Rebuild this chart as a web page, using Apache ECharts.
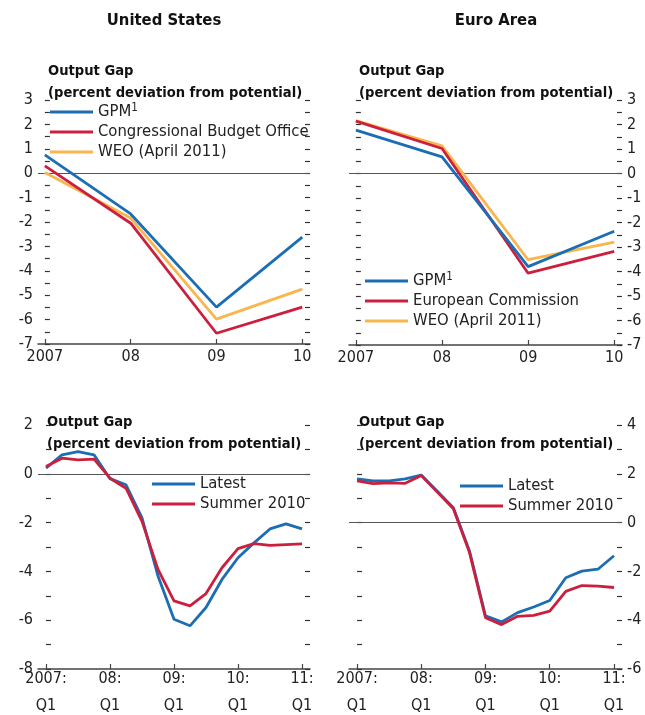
<!DOCTYPE html>
<html>
<head>
<meta charset="utf-8">
<script src="https://cdn.jsdelivr.net/npm/echarts@6/dist/echarts.min.js"></script>
<style>
  html, body { margin: 0; padding: 0; background: #fff; }
  #chart { width: 645px; height: 715px; }
</style>
</head>
<body>
<div id="chart"></div>
<script>
// annual panels (top)
var yearLabels = ['2007', '08', '09', '10'];
var usGPM = [0.75, -1.67, -5.49, -2.62];
var usCBO = [0.3, -2.05, -6.56, -5.49];
var usWEO = [0.03, -1.84, -5.98, -4.75];
var euGPM = [1.77, 0.68, -3.8, -2.36];
var euEC = [2.14, 1.02, -4.07, -3.18];
var euWEO = [2.16, 1.13, -3.52, -2.8];

// quarterly panels (bottom), 2007:Q1 .. 2011:Q1
var quarterLabels = ['2007:\nQ1', '08:\nQ1', '09:\nQ1', '10:\nQ1', '11:\nQ1'];
var usLatest = [0.23, 0.78, 0.91, 0.78, -0.2, -0.45, -1.81, -4.19, -5.96, -6.23, -5.48, -4.33, -3.44, -2.83, -2.26, -2.05, -2.26];
var usSummer = [0.3, 0.64, 0.57, 0.6, -0.18, -0.59, -1.95, -3.92, -5.21, -5.41, -4.91, -3.85, -3.07, -2.86, -2.93, -2.9, -2.87];
var euLatest = [1.79, 1.71, 1.71, 1.79, 1.95, 1.29, 0.61, -1.15, -3.82, -4.07, -3.69, -3.46, -3.19, -2.26, -1.99, -1.91, -1.36];
var euSummer = [1.71, 1.6, 1.63, 1.61, 1.93, 1.25, 0.57, -1.22, -3.9, -4.18, -3.84, -3.8, -3.63, -2.82, -2.58, -2.6, -2.66];

var BLUE = '#1b6db4';
var RED = '#cc1f3d';
var GOLD = '#f9b54e';
var FONT = "'Liberation Sans Narrow', 'DejaVu Sans Condensed', sans-serif";

function pairs(arr) {
  return arr.map(function (v, i) { return [i, v]; });
}

var chart = echarts.init(document.getElementById('chart'));

var grids = [
  { left: 38, top: 100, width: 272, height: 244, outerBoundsMode: 'none' },
  { left: 349, top: 100, width: 273, height: 245, outerBoundsMode: 'none' },
  { left: 38, top: 425, width: 272, height: 244, outerBoundsMode: 'none' },
  { left: 349, top: 425, width: 273, height: 244, outerBoundsMode: 'none' }
];

function xAxisFor(gi, annual) {
  var ticks = annual ? [0, 1, 2, 3] : [0, 4, 8, 12, 16];
  return {
    type: 'value',
    gridIndex: gi,
    min: annual ? -0.08 : -0.5,
    max: annual ? 3.09 : 16.5,
    axisLine: { show: true, onZero: false, lineStyle: { color: '#444', width: 1.5 } },
    axisTick: { show: true, inside: true, length: 5, customValues: ticks, lineStyle: { color: '#444', width: 1.2 } },
    splitLine: { show: false },
    axisLabel: {
      customValues: ticks,
      color: '#222',
      fontFamily: FONT,
      fontSize: 16,
      lineHeight: annual ? 16 : 27,
      margin: annual ? 5 : -4,
      formatter: function (v) {
        return annual ? yearLabels[Math.round(v)] : quarterLabels[Math.round(v / 4)];
      }
    }
  };
}

function yAxisFor(gi, pos, showLabels, min, max, step, labelEvery) {
  return {
    type: 'value',
    gridIndex: gi,
    position: pos,
    min: min,
    max: max,
    interval: step,
    axisLine: { show: false },
    axisTick: { show: true, inside: true, length: 5, lineStyle: { color: '#333', width: 1.2 } },
    splitLine: { show: false },
    axisLabel: {
      show: showLabels,
      color: '#222',
      fontFamily: FONT,
      fontSize: 16,
      margin: 5,
      showMinLabel: true,
      showMaxLabel: true,
      formatter: function (v) {
        return Math.abs(v / labelEvery - Math.round(v / labelEvery)) < 1e-6 ? String(v) : '';
      }
    }
  };
}

var zeroLine = {
  silent: true,
  symbol: 'none',
  z: 1,
  label: { show: false },
  lineStyle: { color: '#555', width: 1, type: 'solid' },
  data: [{ yAxis: 0 }]
};

function line(name, data, color, xi, yi, withZero) {
  var s = {
    name: name,
    type: 'line',
    xAxisIndex: xi,
    yAxisIndex: yi,
    data: pairs(data),
    showSymbol: false,
    symbol: 'none',
    lineStyle: { color: color, width: 2.8 },
    itemStyle: { color: color },
    z: 3
  };
  if (withZero) s.markLine = zeroLine;
  return s;
}

var legendText = {
  fontFamily: FONT,
  fontSize: 16.5,
  color: '#222',
  lineHeight: 20,
  rich: {
    sup: { fontFamily: FONT, fontSize: 11.5, lineHeight: 20, verticalAlign: 'top', color: '#222' }
  }
};

function legendFor(names, left, top) {
  return {
    data: names,
    left: left,
    top: top,
    orient: 'vertical',
    icon: 'rect',
    itemWidth: 43,
    itemHeight: 3,
    itemGap: 0,
    padding: 0,
    selectedMode: false,
    textStyle: legendText,
    formatter: function (n) { return n === 'GPM' ? 'GPM{sup|1}' : n; }
  };
}

var subTitle = 'Output Gap\n(percent deviation from potential)';
var subStyle = { fontFamily: FONT, fontSize: 14.6, fontWeight: 'bold', color: '#111', lineHeight: 22 };
var headStyle = { fontFamily: FONT, fontSize: 16.5, fontWeight: 'bold', color: '#111', lineHeight: 20 };

chart.setOption({
  animation: false,
  backgroundColor: '#fff',
  title: [
    { text: 'United States', left: 164, top: 11, textAlign: 'center', padding: 0, textStyle: headStyle },
    { text: 'Euro Area', left: 496, top: 11, textAlign: 'center', padding: 0, textStyle: headStyle },
    { text: subTitle, left: 48, top: 60, padding: 0, textStyle: subStyle },
    { text: subTitle, left: 359, top: 60, padding: 0, textStyle: subStyle },
    { text: subTitle, left: 47, top: 411, padding: 0, textStyle: subStyle },
    { text: subTitle, left: 359, top: 411, padding: 0, textStyle: subStyle }
  ],
  legend: [
    legendFor(['GPM', 'Congressional Budget Office', 'WEO (April 2011)'], 50, 102),
    legendFor(['GPM', 'European Commission', 'WEO (April 2011)'], 365, 271),
    legendFor(['Latest', 'Summer 2010'], 152, 474),
    legendFor(['Latest', 'Summer 2010'], 460, 476)
  ],
  grid: grids,
  xAxis: [
    xAxisFor(0, true),
    xAxisFor(1, true),
    xAxisFor(2, false),
    xAxisFor(3, false)
  ],
  yAxis: [
    yAxisFor(0, 'left', true, -7, 3, 0.5, 1),
    yAxisFor(0, 'right', false, -7, 3, 0.5, 1),
    yAxisFor(1, 'left', false, -7, 3, 0.5, 1),
    yAxisFor(1, 'right', true, -7, 3, 0.5, 1),
    yAxisFor(2, 'left', true, -8, 2, 1, 2),
    yAxisFor(2, 'right', false, -8, 2, 1, 2),
    yAxisFor(3, 'left', false, -6, 4, 1, 2),
    yAxisFor(3, 'right', true, -6, 4, 1, 2)
  ],
  series: [
    line('WEO (April 2011)', usWEO, GOLD, 0, 0, true),
    line('Congressional Budget Office', usCBO, RED, 0, 0),
    line('GPM', usGPM, BLUE, 0, 0),

    line('WEO (April 2011)', euWEO, GOLD, 1, 3, true),
    line('European Commission', euEC, RED, 1, 3),
    line('GPM', euGPM, BLUE, 1, 3),

    line('Latest', usLatest, BLUE, 2, 4, true),
    line('Summer 2010', usSummer, RED, 2, 4),

    line('Latest', euLatest, BLUE, 3, 7, true),
    line('Summer 2010', euSummer, RED, 3, 7)
  ]
});
</script>
</body>
</html>
